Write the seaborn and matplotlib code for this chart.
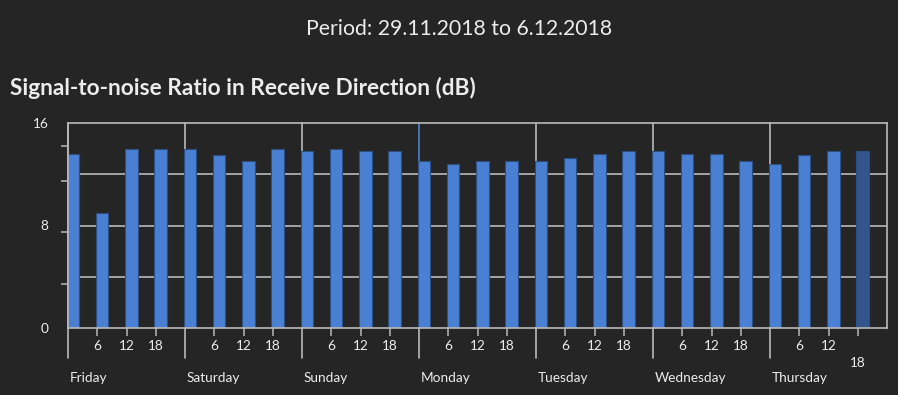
import numpy as np
import pandas as pd
import matplotlib
matplotlib.use("Agg")
import matplotlib.pyplot as plt
import seaborn as sns

# data: 4 readings per day (0h, 6h, 12h, 18h)
days = ["Friday", "Saturday", "Sunday", "Monday", "Tuesday", "Wednesday", "Thursday"]
hours = [0, 6, 12, 18]
hour_labels = ["6", "12", "18"]
snr = [13.6, 9.0, 14.0, 14.0,
       14.0, 13.5, 13.0, 14.0,
       13.8, 14.0, 13.8, 13.8,
       13.0, 12.8, 13.0, 13.0,
       13.0, 13.3, 13.6, 13.8,
       13.8, 13.6, 13.6, 13.0,
       12.8, 13.5, 13.8, 13.8]
status = ["done"] * 27 + ["partial"]

bg = "#252525"
grid_c = "#b9b9b9"
txt = "#ececec"
bar_c = "#4a80d3"
bar_partial = "#34558b"

sns.set_theme(style="dark")
plt.rcParams["font.family"] = ["Lato", "DejaVu Sans"]

t = [d * 24 + h for d in range(len(days)) for h in hours]
df = pd.DataFrame({"t": np.array(t) + 1.0, "snr": snr, "status": status})

fig = plt.figure(figsize=(8.98, 3.95), dpi=100, facecolor=bg)
ax = fig.add_axes([68 / 898, 1 - 328 / 395, (887 - 68) / 898, 205 / 395])
ax.set_facecolor(bg)

for g in [4, 8, 12]:
    ax.axhline(g, color=grid_c, lw=1.2, zorder=0)

sns.barplot(data=df, x="t", y="snr", hue="status", native_scale=True,
            palette={"done": bar_c, "partial": bar_partial}, dodge=False,
            saturation=1, width=2.55 / 6, edgecolor="#2d4e80", linewidth=0.8,
            legend=False, ax=ax, zorder=2)

ax.set_xlim(0, 24 * len(days))
ax.set_ylim(0, 16)

# day separators, reaching down into the label area
trans = ax.get_xaxis_transform()
for i in range(len(days)):
    x0 = i * 24
    ax.plot([x0, x0], [-30 / 205, 0], transform=trans, color=grid_c, lw=1.2,
            clip_on=False, zorder=3)
    col = bar_c if days[i] == "Monday" else grid_c
    ax.plot([x0, x0], [0, 1], transform=trans, color=col, lw=1.2,
            clip_on=False, zorder=1)
    ax.text(x0 + 0.4, -50 / 205, days[i], transform=trans, ha="left",
            va="center", color=txt, fontsize=9.8)

# hour ticks
xt = [d * 24 + h for d in range(len(days)) for h in hours[1:]]
ax.set_xticks(xt)
ax.set_xticklabels(hour_labels * len(days))
ax.tick_params(axis="x", colors=grid_c, labelcolor=txt, labelsize=9.8,
               length=6, width=1.1, pad=3, bottom=True)
ax.xaxis.get_major_ticks()[-1].set_pad(15)

ax.set_yticks([0, 8, 16])
ax.set_yticklabels(["0", "8", "16"])
ax.set_yticks([3.44, 7.5, 11.48, 14.24], minor=True)
ax.tick_params(axis="y", which="major", colors=txt, labelsize=9.8, length=0, pad=14)
ax.tick_params(axis="y", which="minor", colors=grid_c, length=5, width=1.1, left=True)
ax.set_xlabel("")
ax.set_ylabel("")
ax.grid(False)

for s in ax.spines.values():
    s.set_visible(True)
    s.set_color(grid_c)
    s.set_linewidth(1.2)

fig.text(0.511, 1 - 29 / 395, "Period: 29.11.2018 to 6.12.2018", ha="center",
         va="center", color=txt, fontsize=15.3)
fig.text(10 / 898, 1 - 88 / 395, "Signal-to-noise Ratio in Receive Direction (dB)",
         ha="left", va="center", color=txt, fontsize=16.3, fontweight="bold")

fig.savefig("out.png", dpi=100, facecolor=bg)
